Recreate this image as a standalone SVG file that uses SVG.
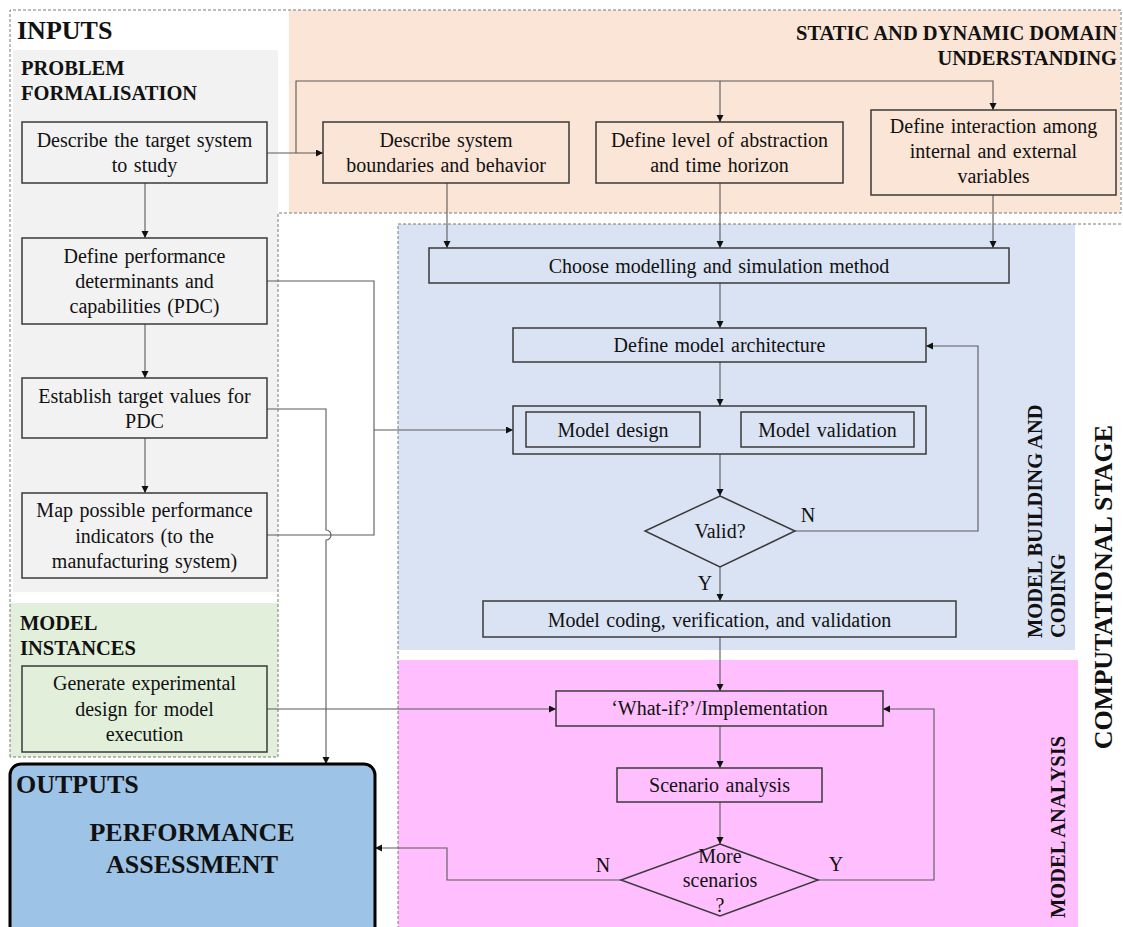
<svg xmlns="http://www.w3.org/2000/svg" width="1123" height="927" viewBox="0 0 1123 927">
  <style>
    .node { stroke: #3a3a3a; stroke-width: 1.5; }
    .txt { font-family: "Liberation Serif", "Times New Roman", serif; font-size: 20px; word-spacing: 1.5px; fill: #111; text-anchor: middle; }
    .ttl { font-family: "Liberation Serif", "Times New Roman", serif; font-weight: bold; font-size: 20.5px; fill: #111; }
    .big { font-family: "Liberation Serif", "Times New Roman", serif; font-weight: bold; font-size: 26px; fill: #111; }
    .wire { fill: none; stroke: #5a5a5a; stroke-width: 1.1; }
    .dash { fill: none; stroke: #7a7a7a; stroke-width: 1; stroke-dasharray: 3 2; }
  </style>
  <defs>
    <marker id="arr" markerUnits="userSpaceOnUse" markerWidth="8" markerHeight="8" refX="7" refY="3.5" orient="auto">
      <path d="M0,0 L7,3.5 L0,7 z" fill="#111"/>
    </marker>
  </defs>

  <rect width="1123" height="927" fill="#ffffff"/>

  <!-- stage backgrounds -->
  <g id="regions">
    <rect x="13" y="50" width="265" height="542" fill="#f2f2f2"/>
    <rect x="10" y="603" width="268" height="154" fill="#e2efda"/>
    <rect x="289" y="10" width="831" height="203" fill="#fbe5d6"/>
    <rect x="398" y="224" width="677" height="426" fill="#dae3f3"/>
    <rect x="398" y="660" width="680" height="267" fill="#ffbfff"/>
    <path class="dash" d="M10,757 V10 H1121 V213 H278 V757 Z"/>
    <path class="dash" d="M1121,224 H398 V927"/>
  </g>

  <!-- section titles -->
  <g id="titles">
    <text class="big" x="17" y="39">INPUTS</text>
    <text class="ttl" x="21" y="75">PROBLEM</text>
    <text class="ttl" x="21" y="100">FORMALISATION</text>
    <text class="ttl" x="1117" y="40" text-anchor="end">STATIC AND DYNAMIC DOMAIN</text>
    <text class="ttl" x="1117" y="65" text-anchor="end">UNDERSTANDING</text>
    <text class="ttl" x="20" y="630">MODEL</text>
    <text class="ttl" x="20" y="655">INSTANCES</text>
    <text class="ttl" transform="translate(1042,638) rotate(-90)">MODEL BUILDING AND</text>
    <text class="ttl" transform="translate(1065,638) rotate(-90)">CODING</text>
    <text class="ttl" transform="translate(1065,918) rotate(-90)">MODEL ANALYSIS</text>
    <text class="big" text-anchor="middle" transform="translate(1112,587) rotate(-90)">COMPUTATIONAL STAGE</text>
  </g>

  <!-- connectors -->
  <g id="connectors">
    <path class="wire" d="M267,153 H323" marker-end="url(#arr)"/>
    <path class="wire" d="M296,153 V81 H993 V110" marker-end="url(#arr)"/>
    <path class="wire" d="M720,81 V122" marker-end="url(#arr)"/>
    <path class="wire" d="M447,183 V248" marker-end="url(#arr)"/>
    <path class="wire" d="M720,183 V248" marker-end="url(#arr)"/>
    <path class="wire" d="M993,195 V248" marker-end="url(#arr)"/>
    <path class="wire" d="M720,283 V328" marker-end="url(#arr)"/>
    <path class="wire" d="M720,362 V406" marker-end="url(#arr)"/>
    <path class="wire" d="M720,454 V496" marker-end="url(#arr)"/>
    <path class="wire" d="M795,531 H978 V346 H926" marker-end="url(#arr)"/>
    <path class="wire" d="M720,567 V601" marker-end="url(#arr)"/>
    <path class="wire" d="M720,637 V691" marker-end="url(#arr)"/>
    <path class="wire" d="M720,726 V768" marker-end="url(#arr)"/>
    <path class="wire" d="M720,802 V844" marker-end="url(#arr)"/>
    <path class="wire" d="M818,880 H934 V709 H883" marker-end="url(#arr)"/>
    <path class="wire" d="M621,880 H447 V848 H375" marker-end="url(#arr)"/>
    <path class="wire" d="M145,183 V238" marker-end="url(#arr)"/>
    <path class="wire" d="M145,324 V378" marker-end="url(#arr)"/>
    <path class="wire" d="M145,438 V493" marker-end="url(#arr)"/>
    <path class="wire" d="M267,281 H374 V535 H267"/>
    <path class="wire" d="M374,430 H513" marker-end="url(#arr)"/>
    <path class="wire" d="M267,409 H326 V530 A5,5 0 0 1 326,540 V764" marker-end="url(#arr)"/>
    <path class="wire" d="M267,709 H556" marker-end="url(#arr)"/>
  </g>

  <!-- problem formalisation -->
  <g id="n-target">
    <rect class="node" x="22" y="122" width="245" height="61" fill="#f2f2f2"/>
    <text class="txt" x="144.5" y="147">Describe the target system</text>
    <text class="txt" x="144.5" y="172">to study</text>
  </g>
  <g id="n-pdc">
    <rect class="node" x="22" y="238" width="245" height="86" fill="#f2f2f2"/>
    <text class="txt" x="144.5" y="263">Define performance</text>
    <text class="txt" x="144.5" y="288">determinants and</text>
    <text class="txt" x="144.5" y="313">capabilities (PDC)</text>
  </g>
  <g id="n-target-values">
    <rect class="node" x="22" y="378" width="245" height="60" fill="#f2f2f2"/>
    <text class="txt" x="144.5" y="403">Establish target values for</text>
    <text class="txt" x="144.5" y="428">PDC</text>
  </g>
  <g id="n-indicators">
    <rect class="node" x="22" y="493" width="245" height="85" fill="#f2f2f2"/>
    <text class="txt" x="144.5" y="517">Map possible performance</text>
    <text class="txt" x="144.5" y="543">indicators (to the</text>
    <text class="txt" x="144.5" y="568">manufacturing system)</text>
  </g>

  <!-- model instances -->
  <g id="n-experiment">
    <rect class="node" x="22" y="666" width="245" height="86" fill="#e2efda"/>
    <text class="txt" x="144.5" y="690">Generate experimental</text>
    <text class="txt" x="144.5" y="716">design for model</text>
    <text class="txt" x="144.5" y="741">execution</text>
  </g>

  <!-- domain understanding -->
  <g id="n-boundaries">
    <rect class="node" x="323" y="122" width="246" height="61" fill="#fbe5d6"/>
    <text class="txt" x="446" y="147">Describe system</text>
    <text class="txt" x="446" y="172">boundaries and behavior</text>
  </g>
  <g id="n-abstraction">
    <rect class="node" x="596" y="122" width="247" height="61" fill="#fbe5d6"/>
    <text class="txt" x="719.5" y="147">Define level of abstraction</text>
    <text class="txt" x="719.5" y="172">and time horizon</text>
  </g>
  <g id="n-interaction">
    <rect class="node" x="871" y="110" width="245" height="85" fill="#fbe5d6"/>
    <text class="txt" x="993.5" y="133">Define interaction among</text>
    <text class="txt" x="993.5" y="158">internal and external</text>
    <text class="txt" x="993.5" y="183">variables</text>
  </g>

  <!-- model building and coding -->
  <g id="n-method">
    <rect class="node" x="429" y="248" width="580" height="35" fill="#dae3f3"/>
    <text class="txt" x="719" y="273">Choose modelling and simulation method</text>
  </g>
  <g id="n-architecture">
    <rect class="node" x="513" y="328" width="413" height="34" fill="#dae3f3"/>
    <text class="txt" x="719.5" y="352">Define model architecture</text>
  </g>
  <g id="n-design-validation">
    <rect class="node" x="513" y="406" width="413" height="48" fill="#dae3f3"/>
    <rect class="node" x="526" y="412" width="174" height="35" fill="#dae3f3"/>
    <text class="txt" x="613" y="437">Model design</text>
    <rect class="node" x="741" y="412" width="173" height="35" fill="#dae3f3"/>
    <text class="txt" x="827.5" y="437">Model validation</text>
  </g>
  <g id="n-valid">
    <polygon class="node" points="720,496 795,531 720,567 645,531" fill="#dae3f3"/>
    <text class="txt" x="720" y="538">Valid?</text>
    <text class="txt" x="808" y="522">N</text>
    <text class="txt" x="705" y="590">Y</text>
  </g>
  <g id="n-coding">
    <rect class="node" x="483" y="601" width="473" height="36" fill="#dae3f3"/>
    <text class="txt" x="719.5" y="627">Model coding, verification, and validation</text>
  </g>

  <!-- model analysis -->
  <g id="n-whatif">
    <rect class="node" x="556" y="691" width="327" height="35" fill="#ffbfff"/>
    <text class="txt" x="719.5" y="715">‘What-if?’/Implementation</text>
  </g>
  <g id="n-scenario">
    <rect class="node" x="617" y="768" width="205" height="34" fill="#ffbfff"/>
    <text class="txt" x="719.5" y="792">Scenario analysis</text>
  </g>
  <g id="n-more">
    <polygon class="node" points="720,844 818,880 720,916 621,880" fill="#ffbfff"/>
    <text class="txt" x="720" y="863">More</text>
    <text class="txt" x="720" y="887">scenarios</text>
    <text class="txt" x="720" y="912">?</text>
    <text class="txt" x="603" y="872">N</text>
    <text class="txt" x="836" y="871">Y</text>
  </g>

  <!-- outputs -->
  <g id="n-outputs">
    <rect x="10" y="764" width="365" height="175" rx="11" ry="11" fill="#9dc3e6" stroke="#000" stroke-width="3"/>
    <text class="big" x="16" y="793">OUTPUTS</text>
    <text class="big" x="192" y="841" text-anchor="middle">PERFORMANCE</text>
    <text class="big" x="192" y="873" text-anchor="middle">ASSESSMENT</text>
  </g>
</svg>
